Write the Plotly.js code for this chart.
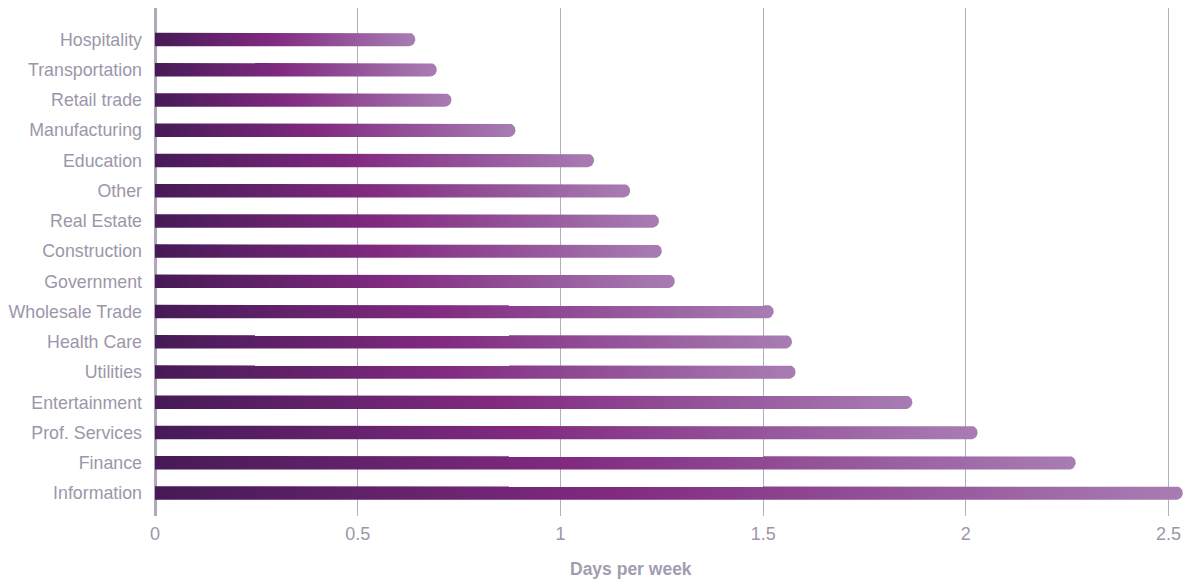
<!DOCTYPE html>
<html>
<head>
<meta charset="utf-8">
<script src="https://cdn.plot.ly/plotly-3.0.1.min.js"></script>
<style>
  html, body { margin: 0; padding: 0; background: #ffffff; }
  #chart { width: 1184px; height: 581px; }
</style>
</head>
<body>
<div id="chart"></div>
<script>
// ---- data ----
const categories = [
  'Hospitality', 'Transportation', 'Retail trade', 'Manufacturing', 'Education',
  'Other', 'Real Estate', 'Construction', 'Government', 'Wholesale Trade',
  'Health Care', 'Utilities', 'Entertainment', 'Prof. Services', 'Finance', 'Information'
];
const daysPerWeek = [
  0.642, 0.695, 0.731, 0.889, 1.083,
  1.172, 1.243, 1.250, 1.282, 1.526,
  1.571, 1.580, 1.868, 2.029, 2.271, 2.535
];
const xTickVals = [0, 0.5, 1, 1.5, 2, 2.5];
const xTickText = ['0', '0.5', '1', '1.5', '2', '2.5'];
const xTitle = 'Days per week';

// ---- styling ----
const W = 1184, H = 581;
const margin = { l: 155, r: 0, t: 8, b: 65 };
const xRange = [0, 2.538];
const yRange = [15.76, -1.04];
const barPx = 13.5;           // bar thickness in pixels
const gradient = [[0, '#461a56'], [0.45, '#812a80'], [1, '#a87db3']];
const labelColor = '#9d96aa';

const plotW = W - margin.l - margin.r;
const plotH = H - margin.t - margin.b;
const pxPerX = plotW / (xRange[1] - xRange[0]);
const pxPerY = plotH / Math.abs(yRange[0] - yRange[1]);
const halfH = (barPx / 2) / pxPerY;
const capRx = (barPx / 2) / pxPerX;

const traces = daysPerWeek.map((v, i) => {
  const xs = [0], ys = [i - halfH];
  const steps = 16;
  for (let k = 0; k <= steps; k++) {
    const t = -Math.PI / 2 + Math.PI * k / steps;
    xs.push(v - capRx + capRx * Math.cos(t));
    ys.push(i + halfH * Math.sin(t));
  }
  xs.push(0); ys.push(i + halfH);
  xs.push(0); ys.push(i - halfH);
  return {
    type: 'scatter',
    mode: 'lines',
    x: xs, y: ys,
    fill: 'toself',
    fillcolor: '#812a80',
    fillgradient: { type: 'horizontal', colorscale: gradient },
    line: { width: 0, color: 'rgba(0,0,0,0)' },
    hoverinfo: 'skip',
    showlegend: false
  };
});

const layout = {
  width: W, height: H,
  margin: margin,
  paper_bgcolor: '#ffffff',
  plot_bgcolor: '#ffffff',
  font: { family: 'Liberation Sans, Arial, sans-serif', size: 16, color: labelColor },
  showlegend: false,
  xaxis: {
    range: xRange,
    tickvals: xTickVals,
    ticktext: xTickText,
    showgrid: true,
    gridcolor: '#b4adc2',
    gridwidth: 1,
    zeroline: true,
    zerolinecolor: '#b0a8bc',
    zerolinewidth: 3,
    showline: false,
    ticks: '',
    ticklabelstandoff: 5,
    tickfont: { size: 18, color: labelColor },
    fixedrange: true,
    layer: 'above traces'
  },
  yaxis: {
    range: yRange,
    tickvals: categories.map((c, i) => i),
    ticktext: categories,
    showgrid: false,
    zeroline: false,
    showline: false,
    ticks: '',
    ticklabelstandoff: 12,
    tickfont: { size: 17.8, color: labelColor },
    fixedrange: true
  },
  annotations: [{
    text: '<b>' + xTitle + '</b>',
    xref: 'paper', yref: 'paper',
    x: (631 - margin.l) / plotW, y: 0,
    yshift: -53,
    xanchor: 'center', yanchor: 'middle',
    showarrow: false,
    font: { size: 17.5, color: '#a39cb0', family: 'Liberation Sans, Arial, sans-serif' }
  }]
};

Plotly.newPlot('chart', traces, layout, { displayModeBar: false, staticPlot: true });
</script>
</body>
</html>
